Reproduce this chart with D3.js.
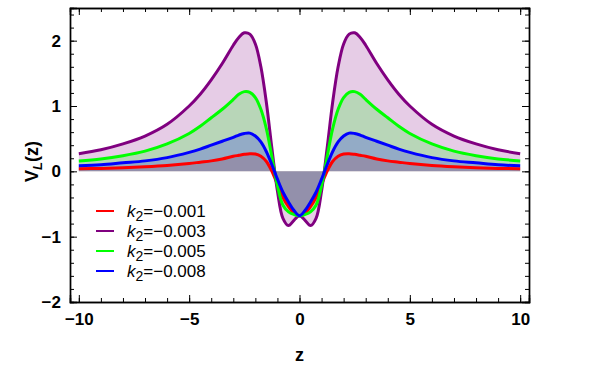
<!DOCTYPE html>
<html>
<head>
<meta charset="utf-8">
<script src="https://cdn.jsdelivr.net/npm/d3@7"></script>
<style>
  body { margin: 0; background: #fff; }
  svg { display: block; font-family: "Liberation Sans", Arial, sans-serif; }
</style>
</head>
<body>
<svg id="chart" width="600" height="374"></svg>
<script>
// sample positions along z
var zs = [-10, -9, -8, -7, -6, -5, -4.5, -4, -3.5, -3, -2.75, -2.5, -2.25, -2, -1.75, -1.5, -1.25, -1, -0.75, -0.5, -0.25,
  0, 0.25, 0.5, 0.75, 1, 1.25, 1.5, 1.75, 2, 2.25, 2.5, 2.75, 3, 3.5, 4, 4.5, 5, 6, 7, 8, 9, 10];

// V_L(z), one array per k2
var vRed = [0.04, 0.045, 0.055, 0.07, 0.09, 0.12, 0.14, 0.16, 0.19, 0.23, 0.245, 0.26, 0.27, 0.265, 0.23, 0.15, 0.0, -0.20, -0.40, -0.54, -0.64,
  -0.68, -0.64, -0.54, -0.40, -0.20, 0.0, 0.15, 0.23, 0.265, 0.27, 0.26, 0.245, 0.23, 0.19, 0.16, 0.14, 0.12, 0.09, 0.07, 0.055, 0.045, 0.04];
var vPurple = [0.27, 0.33, 0.42, 0.54, 0.72, 1.00, 1.18, 1.40, 1.65, 1.93, 2.05, 2.12, 2.10, 1.95, 1.60, 1.05, 0.35, -0.30, -0.72, -0.83, -0.75,
  -0.68, -0.75, -0.83, -0.72, -0.30, 0.35, 1.05, 1.60, 1.95, 2.10, 2.12, 2.05, 1.93, 1.65, 1.40, 1.18, 1.00, 0.72, 0.54, 0.42, 0.33, 0.27];
var vGreen = [0.16, 0.19, 0.24, 0.31, 0.42, 0.58, 0.69, 0.82, 0.95, 1.10, 1.18, 1.22, 1.21, 1.13, 0.95, 0.65, 0.22, -0.22, -0.52, -0.62, -0.66,
  -0.68, -0.66, -0.62, -0.52, -0.22, 0.22, 0.65, 0.95, 1.13, 1.21, 1.22, 1.18, 1.10, 0.95, 0.82, 0.69, 0.58, 0.42, 0.31, 0.24, 0.19, 0.16];
var vBlue = [0.085, 0.10, 0.13, 0.16, 0.21, 0.29, 0.34, 0.40, 0.46, 0.52, 0.555, 0.58, 0.585, 0.54, 0.45, 0.30, 0.10, -0.12, -0.32, -0.47, -0.60,
  -0.68, -0.60, -0.47, -0.32, -0.12, 0.10, 0.30, 0.45, 0.54, 0.585, 0.58, 0.555, 0.52, 0.46, 0.40, 0.34, 0.29, 0.21, 0.16, 0.13, 0.10, 0.085];

var seriesNames = ['\u22120.001', '\u22120.003', '\u22120.005', '\u22120.008'];
var seriesColors = ['#ff0000', '#800080', '#00ff00', '#0000ff'];
var xTicks = [-10, -5, 0, 5, 10];
var yTicks = [-2, -1, 0, 1, 2];

var series = [vRed, vPurple, vGreen, vBlue].map(function(vals, i) {
  return {
    name: seriesNames[i],
    color: seriesColors[i],
    values: vals.map(function(v, j) { return {z: zs[j], v: v}; })
  };
});

var svg = d3.select('#chart');
var frame = {left: 70, right: 529, top: 8, bottom: 302};

var x = d3.scaleLinear().domain([-10.4, 10.4]).range([frame.left, frame.right]);
var y = d3.scaleLinear().domain([-2, 2.5]).range([frame.bottom, frame.top]);

var curve = d3.curveCatmullRom.alpha(0.5);

var line = d3.line()
  .x(function(d) { return x(d.z); })
  .y(function(d) { return y(d.v); })
  .curve(curve);

var area = d3.area()
  .x(function(d) { return x(d.z); })
  .y0(y(0))
  .y1(function(d) { return y(d.v); })
  .curve(curve);

var plot = svg.append('g');

plot.selectAll('path.fill')
  .data(series)
  .enter().append('path')
  .attr('class', 'fill')
  .attr('d', function(d) { return area(d.values); })
  .attr('fill', function(d) { return d.color; })
  .attr('fill-opacity', 0.2)
  .attr('stroke', 'none');

plot.selectAll('path.curve')
  .data(series)
  .enter().append('path')
  .attr('class', 'curve')
  .attr('d', function(d) { return line(d.values); })
  .attr('fill', 'none')
  .attr('stroke', function(d) { return d.color; })
  .attr('stroke-width', 3);

// frame with inward ticks on all four sides
function frameAxis(axis, transform) {
  var g = svg.append('g').attr('transform', transform).call(axis);
  g.select('.domain').attr('stroke', '#000').attr('stroke-width', 1.4);
  g.selectAll('.tick line').attr('stroke', '#000').attr('stroke-width', 1);
  g.selectAll('.tick text')
    .attr('fill', '#000')
    .style('font-size', '17px')
    .style('font-weight', 'bold');
  return g;
}

var xMinor = d3.range(-10, 11, 1);
var yMinor = d3.range(-2, 2.5, 0.2);

function tickFormat(d) { return d < 0 ? '\u2212' + Math.abs(d) : String(d); }

// minor ticks first, major on top
frameAxis(d3.axisBottom(x).tickValues(xMinor).tickSize(-4).tickFormat(''), 'translate(0,' + frame.bottom + ')');
frameAxis(d3.axisBottom(x).tickValues(xTicks).tickSize(-7).tickPadding(11).tickFormat(tickFormat), 'translate(0,' + frame.bottom + ')');
frameAxis(d3.axisTop(x).tickValues(xMinor).tickSize(-4).tickFormat(''), 'translate(0,' + frame.top + ')');
frameAxis(d3.axisTop(x).tickValues(xTicks).tickSize(-7).tickFormat(''), 'translate(0,' + frame.top + ')');
frameAxis(d3.axisLeft(y).tickValues(yMinor).tickSize(-4).tickFormat(''), 'translate(' + frame.left + ',0)');
frameAxis(d3.axisLeft(y).tickValues(yTicks).tickSize(-7).tickPadding(9).tickFormat(tickFormat), 'translate(' + frame.left + ',0)');
frameAxis(d3.axisRight(y).tickValues(yMinor).tickSize(-4).tickFormat(''), 'translate(' + frame.right + ',0)');
frameAxis(d3.axisRight(y).tickValues(yTicks).tickSize(-7).tickFormat(''), 'translate(' + frame.right + ',0)');

// axis titles
svg.append('text')
  .attr('x', x(0))
  .attr('y', 361)
  .attr('text-anchor', 'middle')
  .style('font-size', '18px')
  .style('font-weight', 'bold')
  .text('z');

var yTitle = svg.append('text')
  .attr('transform', 'translate(38,' + y(0.15) + ') rotate(-90)')
  .attr('text-anchor', 'middle')
  .style('font-size', '18px')
  .style('font-weight', 'bold');
yTitle.append('tspan').text('V');
yTitle.append('tspan').attr('dy', 4).style('font-size', '13px').style('font-style', 'italic').text('L');
yTitle.append('tspan').attr('dy', -4).text('(z)');

// legend
var legend = svg.append('g').attr('transform', 'translate(96,211)');
var item = legend.selectAll('g')
  .data(series)
  .enter().append('g')
  .attr('transform', function(d, i) { return 'translate(0,' + i * 20 + ')'; });

item.append('line')
  .attr('x1', 0).attr('x2', 18)
  .attr('stroke', function(d) { return d.color; })
  .attr('stroke-width', 2);

var label = item.append('text')
  .attr('x', 31)
  .attr('y', 6)
  .style('font-size', '17px');
label.append('tspan').style('font-style', 'italic').text('k');
label.append('tspan').attr('dy', 4).style('font-size', '14px').text('2');
label.append('tspan').attr('dy', -4).text(function(d) { return '=' + d.name; });
</script>
</body>
</html>
